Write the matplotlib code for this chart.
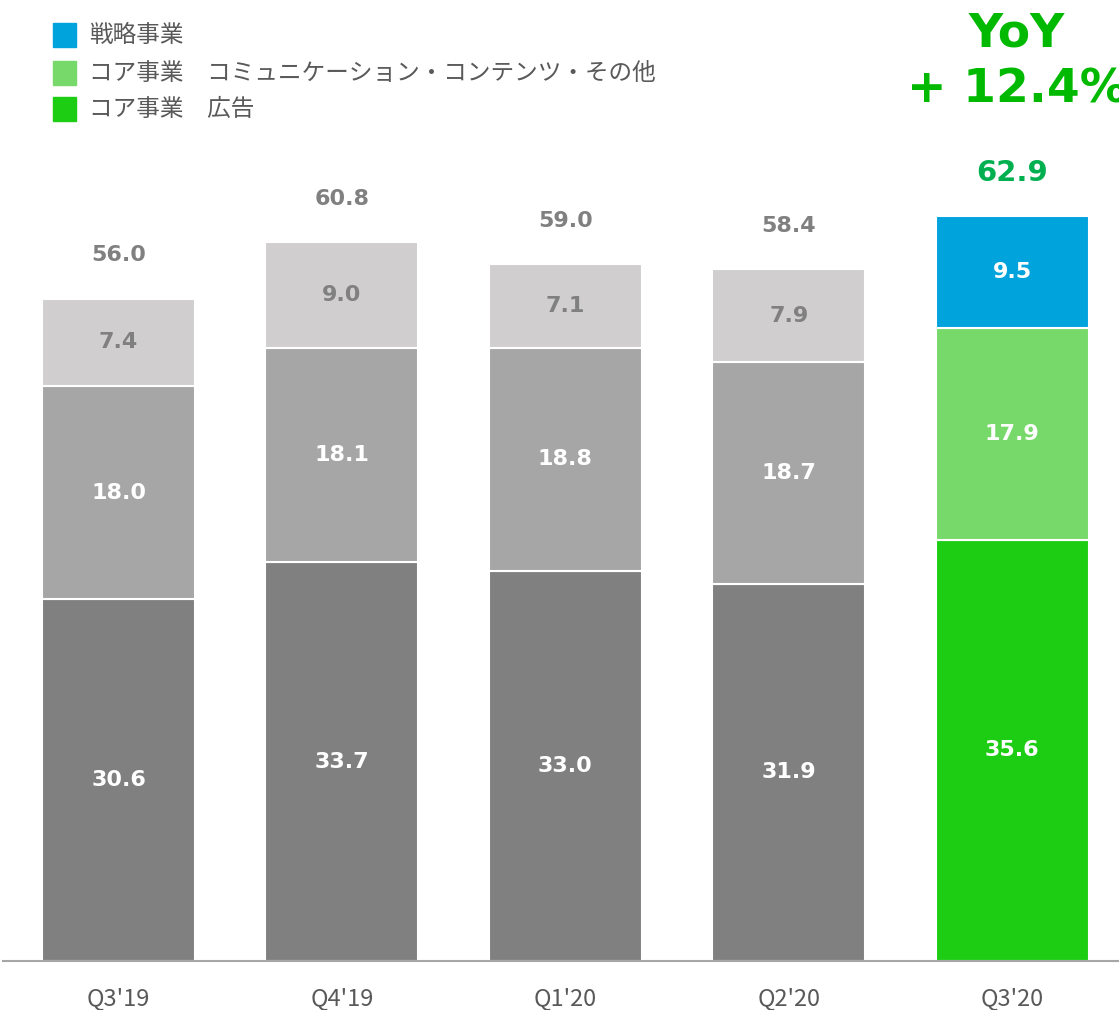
import numpy as np
import matplotlib
matplotlib.use("Agg")
import matplotlib.pyplot as plt

plt.rcParams['font.family'] = ['Noto Sans CJK JP', 'DejaVu Sans']

categories = ["Q3'19", "Q4'19", "Q1'20", "Q2'20", "Q3'20"]
ad = [30.6, 33.7, 33.0, 31.9, 35.6]          # コア事業 広告
comm = [18.0, 18.1, 18.8, 18.7, 17.9]        # コア事業 コミュニケーション・コンテンツ・その他
strategic = [7.4, 9.0, 7.1, 7.9, 9.5]        # 戦略事業
totals = [56.0, 60.8, 59.0, 58.4, 62.9]
legend_labels = ["戦略事業", "コア事業\u3000コミュニケーション・コンテンツ・その他", "コア事業\u3000広告"]
yoy_text = "YoY\n+ 12.4%"

# colours: past quarters grey, latest quarter coloured
ad_cols = ["#808080"] * 4 + ["#1DCD14"]
comm_cols = ["#A6A6A6"] * 4 + ["#77D96A"]
str_cols = ["#D0CECE"] * 4 + ["#00A3DC"]
str_text = ["#808080"] * 4 + ["white"]
total_cols = ["#808080"] * 4 + ["#00B050"]

fig = plt.figure(figsize=(11.19, 10.10), dpi=100)
ax = fig.add_axes([3 / 1119, 49 / 1010, 1116 / 1119, 961 / 1010])

x = np.arange(len(categories))
w = 0.685
ad = np.array(ad)
comm = np.array(comm)
strategic = np.array(strategic)

ax.bar(x, ad, w, color=ad_cols, edgecolor="white", linewidth=1.5)
ax.bar(x, comm, w, bottom=ad, color=comm_cols, edgecolor="white", linewidth=1.5)
ax.bar(x, strategic, w, bottom=ad + comm, color=str_cols, edgecolor="white", linewidth=1.5)

num_font = dict(family="DejaVu Sans", fontweight="bold", fontsize=16)
for i in range(len(categories)):
    ax.text(x[i], ad[i] / 2, f"{ad[i]:.1f}", ha="center", va="center", color="white", **num_font)
    ax.text(x[i], ad[i] + comm[i] / 2, f"{comm[i]:.1f}", ha="center", va="center", color="white", **num_font)
    ax.text(x[i], ad[i] + comm[i] + strategic[i] / 2, f"{strategic[i]:.1f}", ha="center", va="center",
            color=str_text[i], **num_font)
    top = ad[i] + comm[i] + strategic[i]
    ax.annotate(f"{totals[i]:.1f}", (x[i], top), xytext=(0, 31), textcoords="offset points",
                ha="center", va="center", color=total_cols[i], family="DejaVu Sans",
                fontweight="bold", fontsize=21 if i == 4 else 16)

ax.set_xlim(-0.517, 4.478)
ax.set_ylim(0, 961 / 11.83)
ax.set_xticks(x)
ax.set_xticklabels(categories, fontsize=17, color="#595959")
ax.tick_params(axis="x", length=0, pad=19)
ax.set_yticks([])
for s in ["top", "right", "left"]:
    ax.spines[s].set_visible(False)
ax.spines["bottom"].set_color("#A6A6A6")
ax.spines["bottom"].set_linewidth(1.5)

# legend drawn manually
leg_cols = ["#00A3DC", "#77D96A", "#1DCD14"]
leg_y = [35, 73, 109]
for c, lab, yy in zip(leg_cols, legend_labels, leg_y):
    fy = 1 - yy / 1010
    fig.patches.append(plt.Rectangle((53 / 1119, fy - 11.5 / 1010), 23 / 1119, 23 / 1010,
                                     transform=fig.transFigure, color=c))
    fig.text(89 / 1119, fy, lab, ha="left", va="center", fontsize=17, color="#595959")

# YoY headline, runs off the right edge as in the source slide
fig.text(1017 / 1119, 1 - 62 / 1010, yoy_text, ha="center", va="center", fontsize=34,
         fontweight="bold", color="#00B900", family="DejaVu Sans", linespacing=1.3)

fig.savefig("out.png", dpi=100)
